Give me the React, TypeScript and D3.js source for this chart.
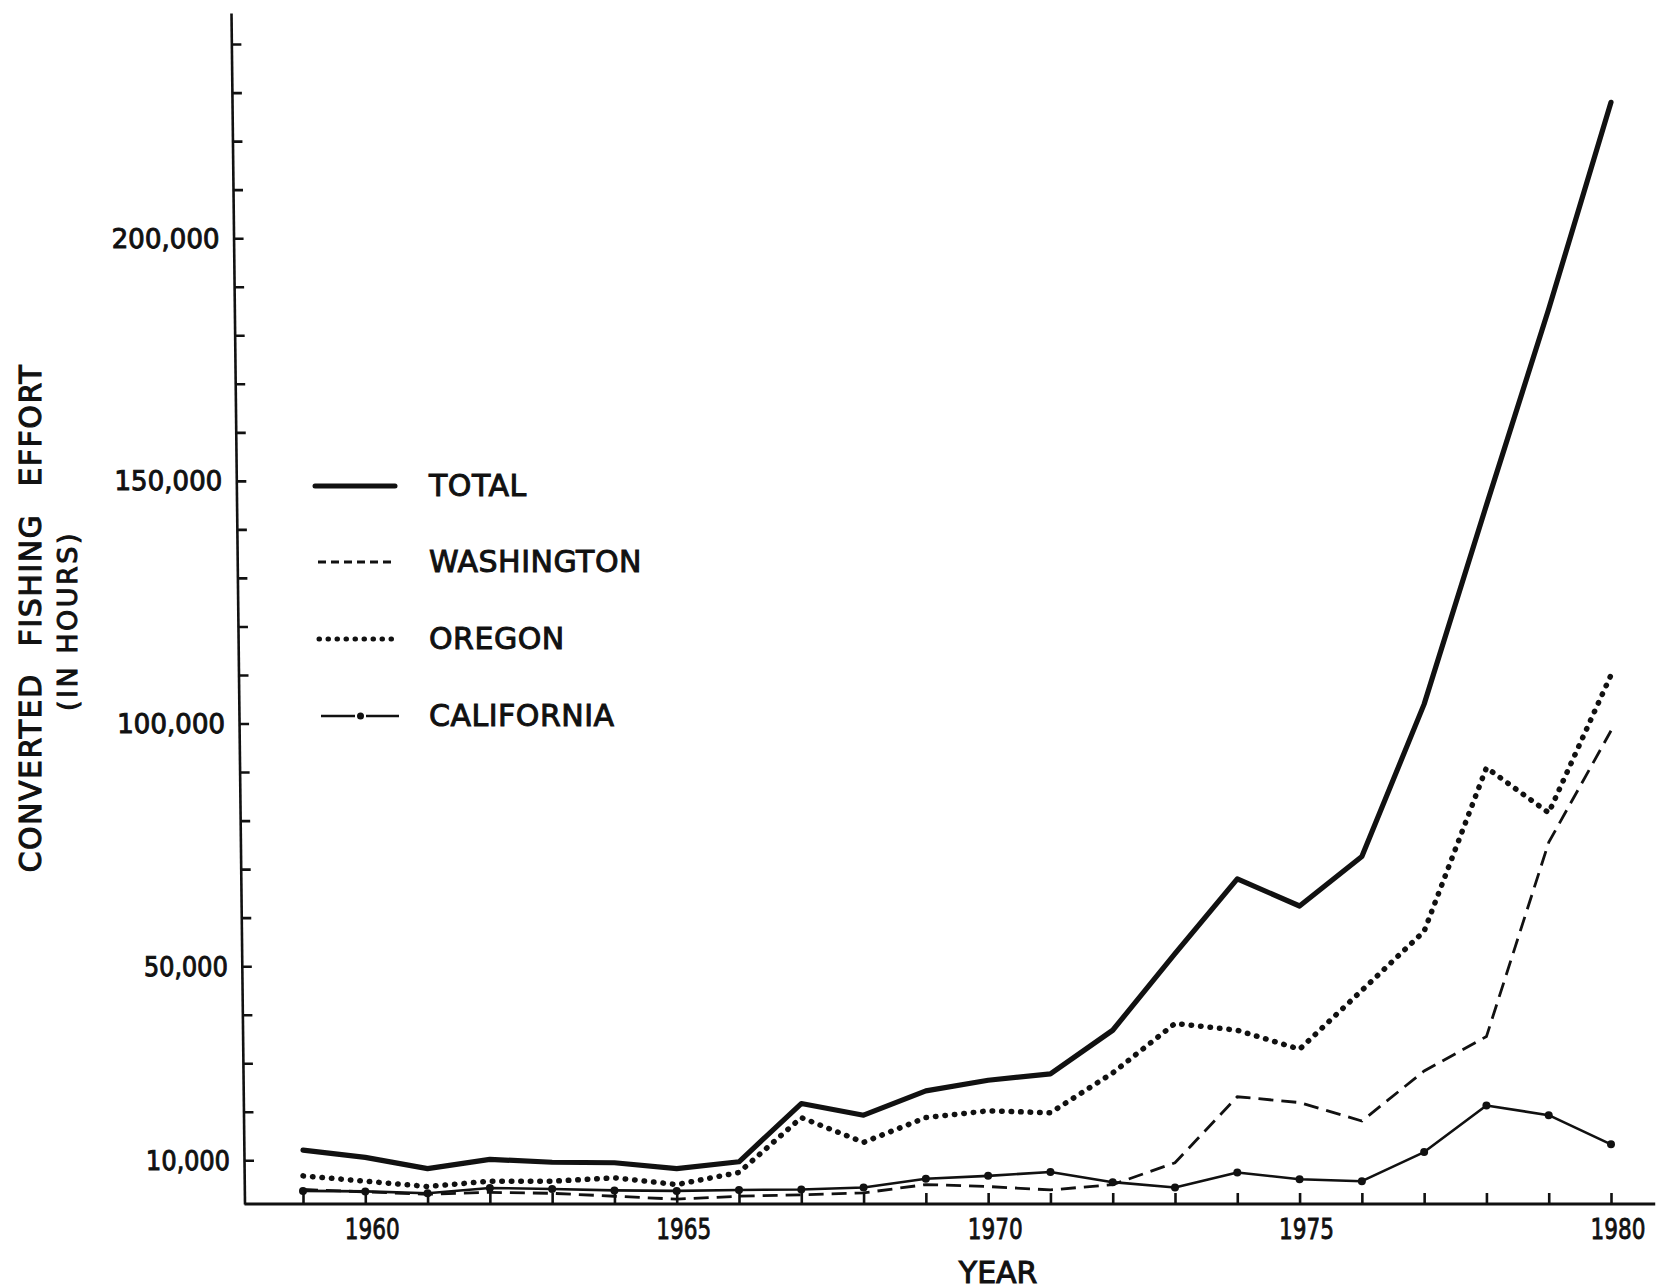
import React, { useEffect, useRef } from 'react';
import * as d3 from 'd3';

// ---- data (thousands of hours) ----
const years = [1959, 1960, 1961, 1962, 1963, 1964, 1965, 1966, 1967, 1968, 1969, 1970, 1971, 1972, 1973, 1974, 1975, 1976, 1977, 1978, 1979, 1980];
const totalK = [12.1, 10.6, 8.3, 10.2, 9.6, 9.5, 8.3, 9.7, 21.7, 19.3, 24.3, 26.5, 27.8, 36.8, 52.6, 68.0, 62.4, 72.6, 104, 145, 185.4, 228];
const washingtonK = [4.0, 3.5, 3.0, 3.4, 3.2, 2.6, 2.0, 2.6, 2.9, 3.3, 5.0, 4.6, 3.9, 5.0, 9.5, 23.1, 21.9, 18.1, 28.4, 35.5, 75.5, 98.5];
const oregonK = [6.8, 5.7, 4.6, 5.7, 5.7, 6.4, 5.0, 7.5, 18.8, 13.7, 18.8, 20.2, 19.8, 28.0, 38.2, 36.8, 32.9, 45.0, 57.2, 90.9, 81.6, 110];
const californiaK = [3.7, 3.6, 3.2, 4.3, 4.1, 3.8, 3.7, 3.9, 4.0, 4.4, 6.2, 6.8, 7.6, 5.5, 4.4, 7.5, 6.1, 5.7, 11.7, 21.3, 19.3, 13.3];

const yLabelValues = [10000, 50000, 100000, 150000, 200000];
const yTickStep = 10000;
const yTickMax = 240000;
const xLabelYears = [1960, 1965, 1970, 1975, 1980];
const legendNames = ['TOTAL', 'WASHINGTON', 'OREGON', 'CALIFORNIA'];

const FONT = '"DejaVu Sans", "Liberation Sans", sans-serif';
const INK = '#111';

export default function App() {
  const ref = useRef<SVGSVGElement | null>(null);

  useEffect(() => {
    const svg = d3.select(ref.current);
    svg.selectAll('*').remove();

    const x = d3.scaleLinear().domain([1959, 1980]).range([303, 1611]);
    const y = d3.scaleLinear().domain([1000, 246400]).range([1204, 13]);

    const skew = 0.01134; // slight slant of the hand-drawn y axis
    const axisX0 = 230.85;
    const axisBottomX = axisX0 + skew * y(1000);

    svg.append('rect').attr('width', 1676).attr('height', 1288).attr('fill', '#fff');

    // ---- Y axis ----
    const yTicks = d3.range(yTickStep, yTickMax + 1, yTickStep);
    const gy = svg.append('g')
      .attr('transform', `translate(${axisX0},0) skewX(${(Math.atan(skew) * 180) / Math.PI})`);
    gy.call(d3.axisRight(y).tickValues(yTicks).tickSize(10).tickSizeOuter(0).tickFormat(() => ''));
    gy.select('.domain').attr('stroke', INK).attr('stroke-width', 2.6);
    gy.selectAll('.tick line').attr('stroke', INK).attr('stroke-width', 2.6);
    gy.selectAll('.tick text').remove();
    gy.selectAll('text.ylab')
      .data(yLabelValues)
      .enter()
      .append('text')
      .attr('class', 'ylab')
      .attr('x', -14)
      .attr('y', (d) => y(d))
      .attr('text-anchor', 'end')
      .attr('dominant-baseline', 'central')
      .attr('font-family', FONT)
      .attr('font-size', 27)
      .attr('textLength', (d) => (d >= 100000 ? 108 : 84))
      .attr('lengthAdjust', 'spacingAndGlyphs')
      .attr('fill', INK)
      .attr('stroke', INK)
      .attr('stroke-width', 1)
      .text((d) => d3.format(',')(d));

    // ---- X axis ----
    const gx = svg.append('g').attr('transform', `translate(0,${y(1000)})`);
    gx.call(d3.axisTop(x).tickValues(years).tickSize(11).tickSizeOuter(0).tickFormat(() => ''));
    gx.select('.domain').remove();
    gx.selectAll('.tick line').attr('stroke', INK).attr('stroke-width', 2.6);
    gx.append('line')
      .attr('x1', axisBottomX)
      .attr('x2', x(1980.71))
      .attr('y1', 0)
      .attr('y2', 0)
      .attr('stroke', INK)
      .attr('stroke-width', 3);
    gx.selectAll('text.xlab')
      .data(xLabelYears)
      .enter()
      .append('text')
      .attr('class', 'xlab')
      .attr('x', (d) => x(d) + 7)
      .attr('y', 25)
      .attr('text-anchor', 'middle')
      .attr('dominant-baseline', 'central')
      .attr('font-family', FONT)
      .attr('font-size', 29)
      .attr('textLength', 55)
      .attr('lengthAdjust', 'spacingAndGlyphs')
      .attr('fill', INK)
      .attr('stroke', INK)
      .attr('stroke-width', 0.9)
      .text((d) => String(d));

    svg.append('text')
      .attr('x', x(1970) + 10)
      .attr('y', 1272)
      .attr('text-anchor', 'middle')
      .attr('dominant-baseline', 'central')
      .attr('font-family', FONT)
      .attr('font-size', 30)
      .attr('fill', INK)
      .attr('stroke', INK)
      .attr('stroke-width', 1)
      .text('YEAR');

    // ---- Y title ----
    svg.append('text')
      .attr('transform', 'translate(30,618) rotate(-90)')
      .attr('text-anchor', 'middle')
      .attr('dominant-baseline', 'central')
      .attr('font-family', FONT)
      .attr('font-size', 30)
      .attr('letter-spacing', 1.5)
      .attr('word-spacing', 16)
      .attr('fill', INK)
      .attr('stroke', INK)
      .attr('stroke-width', 1.1)
      .text('CONVERTED FISHING EFFORT');
    svg.append('text')
      .attr('transform', 'translate(67,621) rotate(-90)')
      .attr('text-anchor', 'middle')
      .attr('dominant-baseline', 'central')
      .attr('font-family', FONT)
      .attr('font-size', 27)
      .attr('letter-spacing', 2.5)
      .attr('fill', INK)
      .attr('stroke', INK)
      .attr('stroke-width', 1)
      .text('(IN HOURS)');

    // ---- series ----
    const line = d3.line<number>()
      .x((_, i) => x(years[i]))
      .y((d) => y(d * 1000));

    svg.append('path')
      .attr('d', line(washingtonK))
      .attr('fill', 'none')
      .attr('stroke', INK)
      .attr('stroke-width', 2.8)
      .attr('stroke-dasharray', '15 8');

    svg.append('path')
      .attr('d', line(californiaK))
      .attr('fill', 'none')
      .attr('stroke', INK)
      .attr('stroke-width', 2.6)
      .attr('stroke-linejoin', 'round');
    svg.selectAll('circle.ca')
      .data(californiaK)
      .enter()
      .append('circle')
      .attr('class', 'ca')
      .attr('cx', (_, i) => x(years[i]))
      .attr('cy', (d) => y(d * 1000))
      .attr('r', 4)
      .attr('fill', INK);

    svg.append('path')
      .attr('d', line(oregonK))
      .attr('fill', 'none')
      .attr('stroke', INK)
      .attr('stroke-width', 5.5)
      .attr('stroke-linecap', 'round')
      .attr('stroke-dasharray', '0.5 9');

    svg.append('path')
      .attr('d', line(totalK))
      .attr('fill', 'none')
      .attr('stroke', INK)
      .attr('stroke-width', 5.2)
      .attr('stroke-linejoin', 'round')
      .attr('stroke-linecap', 'round');

    // ---- legend ----
    const legendY = [486, 562, 639, 716];
    const lg = svg.append('g');
    lg.append('line').attr('x1', 315).attr('x2', 395).attr('y1', legendY[0]).attr('y2', legendY[0])
      .attr('stroke', INK).attr('stroke-width', 5).attr('stroke-linecap', 'round');
    lg.append('line').attr('x1', 318).attr('x2', 395).attr('y1', legendY[1]).attr('y2', legendY[1])
      .attr('stroke', INK).attr('stroke-width', 2.8).attr('stroke-dasharray', '8 5');
    lg.append('line').attr('x1', 319).attr('x2', 397).attr('y1', legendY[2]).attr('y2', legendY[2])
      .attr('stroke', INK).attr('stroke-width', 5).attr('stroke-linecap', 'round').attr('stroke-dasharray', '0.5 8.5');
    lg.append('line').attr('x1', 321).attr('x2', 355).attr('y1', legendY[3]).attr('y2', legendY[3])
      .attr('stroke', INK).attr('stroke-width', 2.6);
    lg.append('line').attr('x1', 366).attr('x2', 399).attr('y1', legendY[3]).attr('y2', legendY[3])
      .attr('stroke', INK).attr('stroke-width', 2.6);
    lg.append('circle').attr('cx', 360.5).attr('cy', legendY[3]).attr('r', 3.5).attr('fill', INK);
    lg.selectAll('text')
      .data(legendNames)
      .enter()
      .append('text')
      .attr('x', 429)
      .attr('y', (_, i) => legendY[i] - 1)
      .attr('dominant-baseline', 'central')
      .attr('font-family', FONT)
      .attr('font-size', 30)
      .attr('letter-spacing', 0.5)
      .attr('fill', INK)
      .attr('stroke', INK)
      .attr('stroke-width', 1)
      .text((d) => d);
  }, []);

  return (
    <div style={{ position: 'absolute', left: 0, top: 0 }}>
      <svg ref={ref} width={1676} height={1288} style={{ display: 'block' }} />
    </div>
  );
}
